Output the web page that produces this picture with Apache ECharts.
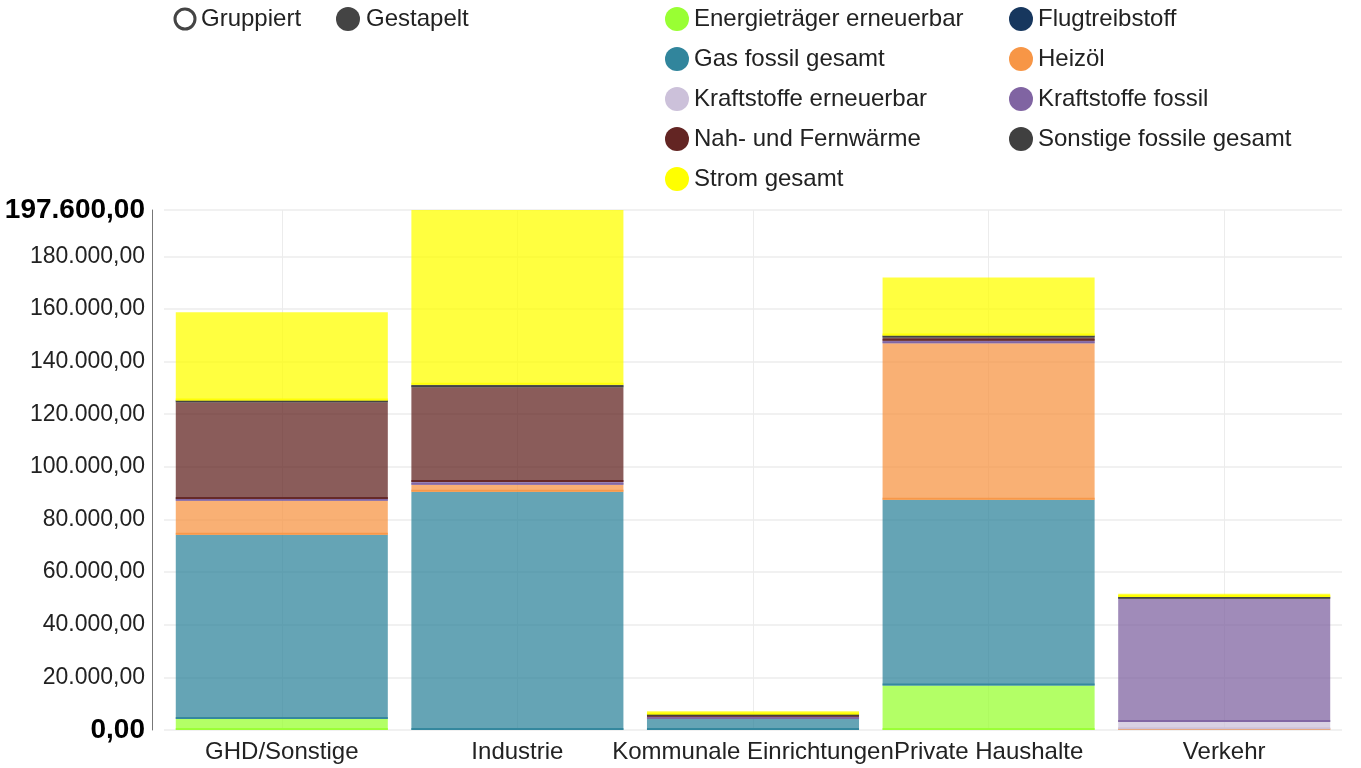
<!DOCTYPE html>
<html>
<head>
<meta charset="utf-8">
<script src="https://cdn.jsdelivr.net/npm/echarts@6/dist/echarts.min.js"></script>
<style>
  html, body { margin: 0; padding: 0; background: #fff; }
  #chart { width: 1361px; height: 768px; }
</style>
</head>
<body>
<div id="chart"></div>
<script>
// Sektoren (x-Achse)
var categories = ['GHD/Sonstige', 'Industrie', 'Kommunale Einrichtungen', 'Private Haushalte', 'Verkehr'];

// Werte je Energieträger, von unten nach oben gestapelt (0 = nicht vorhanden)
var energieErneuerbar = [4200, 0, 0, 16900, 0];
var flugtreibstoff = [0, 0, 0, 0, 0];
var gasFossil = [70000, 90560, 4200, 70600, 0];
var heizoel = [12900, 2660, 0, 59470, 300];
var kraftstoffeErneuerbar = [0, 0, 0, 0, 2700];
var kraftstoffeFossil = [700, 1030, 800, 910, 46850];
var nahFernwaerme = [36700, 35990, 400, 1250, 0];
var sonstigeFossil = [700, 910, 500, 760, 700];
var stromGesamt = [33500, 66450, 1200, 22070, 1200];

var yMax = 197600;
var yInterval = 20000;

var chart = echarts.init(document.getElementById('chart'));

function hexToRgba(hex, a) {
  var r = parseInt(hex.substr(1, 2), 16);
  var g = parseInt(hex.substr(3, 2), 16);
  var b = parseInt(hex.substr(5, 2), 16);
  return 'rgba(' + r + ',' + g + ',' + b + ',' + a + ')';
}

// deutsches Zahlenformat 180.000,00
function fmtDe(v) {
  var parts = v.toFixed(2).split('.');
  var int = parts[0].replace(/\B(?=(\d{3})+(?!\d))/g, '.');
  return int + ',' + parts[1];
}

var seriesDefs = [
  { name: 'Energieträger erneuerbar', color: '#99ff33', data: energieErneuerbar },
  { name: 'Flugtreibstoff', color: '#17375e', data: flugtreibstoff },
  { name: 'Gas fossil gesamt', color: '#31859c', data: gasFossil },
  { name: 'Heizöl', color: '#f79646', data: heizoel },
  { name: 'Kraftstoffe erneuerbar', color: '#ccc1da', data: kraftstoffeErneuerbar },
  { name: 'Kraftstoffe fossil', color: '#8064a2', data: kraftstoffeFossil },
  { name: 'Nah- und Fernwärme', color: '#632523', data: nahFernwaerme },
  { name: 'Sonstige fossile gesamt', color: '#404040', data: sonstigeFossil },
  { name: 'Strom gesamt', color: '#ffff00', data: stromGesamt }
];

// Stapelbasis je Kategorie mitführen
var base = categories.map(function () { return 0; });

var series = seriesDefs.map(function (s, si) {
  var rows = s.data.map(function (v, i) {
    var row = [i, v, base[i]];
    base[i] += v;
    return row;
  });
  return {
    name: s.name,
    type: 'custom',
    data: rows,
    encode: { x: 0, y: 1 },
    itemStyle: { color: s.color },
    renderItem: function (params, api) {
      var v = api.value(1);
      if (!v) return;
      var c = api.value(0), b = api.value(2);
      var p0 = api.coord([c, b]);
      var p1 = api.coord([c, b + v]);
      var w = api.size([1, 0])[0] * 0.9;
      var x = p0[0] - w / 2;
      var h = Math.max(p0[1] - p1[1], 0.8);
      return {
        type: 'group',
        children: [
          { type: 'rect', shape: { x: x, y: p0[1] - h, width: w, height: h },
            style: { fill: hexToRgba(s.color, 0.75) } },
          { type: 'rect', shape: { x: x, y: p0[1] - 2, width: w, height: 2 },
            style: { fill: hexToRgba(s.color, 0.9) } }
        ]
      };
    }
  };
});

function legendItem(i) {
  return { name: seriesDefs[i].name, itemStyle: { color: seriesDefs[i].color } };
}

var legendCommon = {
  orient: 'vertical',
  top: 2,
  icon: 'circle',
  itemWidth: 24,
  itemHeight: 24,
  itemGap: 16,
  selectedMode: false,
  textStyle: { fontSize: 24, color: '#222', fontFamily: 'Liberation Sans' }
};

chart.setOption({
  animation: false,
  textStyle: { fontFamily: 'Liberation Sans' },
  legend: [
    Object.assign({ left: 660, data: [0, 2, 4, 6, 8].map(legendItem) }, legendCommon),
    Object.assign({ left: 1004, data: [1, 3, 5, 7].map(legendItem) }, legendCommon)
  ],
  graphic: [
    { type: 'circle', shape: { cx: 185, cy: 19, r: 10 }, style: { fill: '#fff', stroke: '#444', lineWidth: 3 } },
    { type: 'text', x: 201, y: 19, style: { text: 'Gruppiert', fontSize: 24, fill: '#222', fontFamily: 'Liberation Sans', verticalAlign: 'middle' } },
    { type: 'circle', shape: { cx: 348, cy: 19, r: 12 }, style: { fill: '#444' } },
    { type: 'text', x: 366, y: 19, style: { text: 'Gestapelt', fontSize: 24, fill: '#222', fontFamily: 'Liberation Sans', verticalAlign: 'middle' } }
  ],
  grid: { left: 164, right: 19, top: 210, bottom: 38 },
  xAxis: {
    type: 'category',
    data: categories,
    axisLine: { show: false },
    axisTick: { show: false },
    axisLabel: { interval: 0, fontSize: 24, color: '#222', margin: 10 },
    splitLine: { show: true, alignWithLabel: true, lineStyle: { color: '#ececec', width: 1 } }
  },
  yAxis: {
    type: 'value',
    min: 0,
    max: yMax,
    interval: yInterval,
    offset: 12,
    axisLine: { show: true, lineStyle: { color: '#777', width: 1 } },
    axisTick: { show: false },
    splitLine: { lineStyle: { color: '#ececec', width: 1.5 } },
    axisLabel: {
      margin: 7,
      formatter: function (v) {
        var s = fmtDe(v);
        return (v === 0 || v === yMax) ? '{b|' + s + '}' : '{n|' + s + '}';
      },
      rich: {
        b: { fontSize: 28, fontWeight: 'bold', color: '#000', fontFamily: 'Liberation Sans' },
        n: { fontSize: 23, color: '#222', fontFamily: 'Liberation Sans' }
      }
    }
  },
  series: series
});
</script>
</body>
</html>
